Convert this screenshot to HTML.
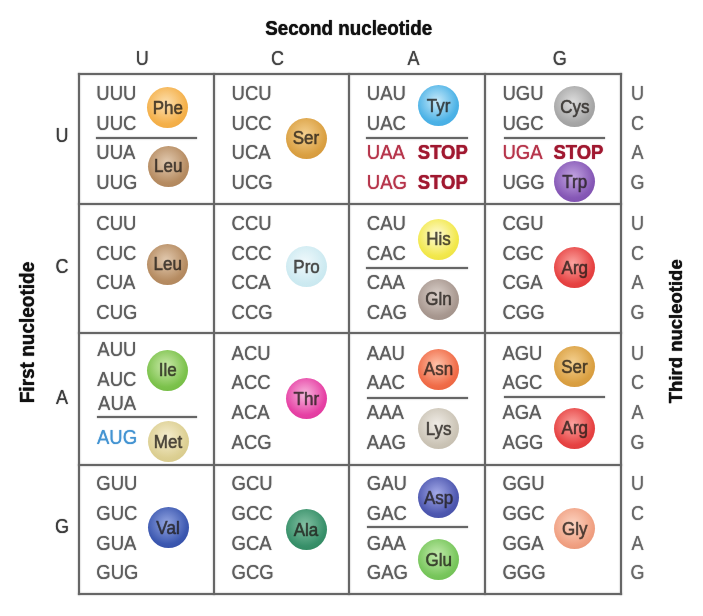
<!DOCTYPE html>
<html><head><meta charset="utf-8"><style>
html,body{margin:0;padding:0;background:#fff;}
body{width:703px;height:616px;position:relative;overflow:hidden;}
#w{position:absolute;left:0;top:0;width:703px;height:616px;will-change:transform;}
.t{position:absolute;font-family:"Liberation Sans",sans-serif;line-height:1;white-space:nowrap;transform-origin:0 0;text-shadow:0 0 1px currentColor;}
.tb{-webkit-text-stroke:0.2px currentColor;}
.bt{-webkit-text-stroke:0.5px currentColor;text-shadow:0 0 1px rgba(30,25,20,0.45);}
.ln{position:absolute;background:#666666;box-shadow:0 0 1.3px rgba(100,100,100,0.9);}
.ball{position:absolute;width:41px;height:41px;border-radius:50%;}
</style></head><body><div id="w">
<div class="ln" style="left:77.5px;top:72.8px;width:2.0px;height:521.8px"></div>
<div class="ln" style="left:212.8px;top:72.8px;width:2.0px;height:521.8px"></div>
<div class="ln" style="left:348.0px;top:72.8px;width:2.0px;height:521.8px"></div>
<div class="ln" style="left:483.6px;top:72.8px;width:2.0px;height:521.8px"></div>
<div class="ln" style="left:619.6px;top:72.8px;width:2.0px;height:521.8px"></div>
<div class="ln" style="left:77.5px;top:72.8px;width:544.1px;height:2.0px"></div>
<div class="ln" style="left:77.5px;top:203.4px;width:544.1px;height:2.0px"></div>
<div class="ln" style="left:77.5px;top:332.2px;width:544.1px;height:2.0px"></div>
<div class="ln" style="left:77.5px;top:463.9px;width:544.1px;height:2.0px"></div>
<div class="ln" style="left:77.5px;top:592.6px;width:544.1px;height:2.0px"></div>
<div class="t tb" style="left:265.2px;top:19.68px;font-size:18.8px;font-weight:700;color:#111;transform:scaleY(1.03);">Second nucleotide</div>
<div class="t" style="left:122.3px;width:40px;text-align:center;top:49.45px;font-size:18px;font-weight:400;color:#444444;transform:scaleY(1.09);">U</div>
<div class="t" style="left:257.6px;width:40px;text-align:center;top:49.45px;font-size:18px;font-weight:400;color:#444444;transform:scaleY(1.09);">C</div>
<div class="t" style="left:393.4px;width:40px;text-align:center;top:49.45px;font-size:18px;font-weight:400;color:#444444;transform:scaleY(1.09);">A</div>
<div class="t" style="left:539.7px;width:40px;text-align:center;top:49.45px;font-size:18px;font-weight:400;color:#444444;transform:scaleY(1.09);">G</div>
<div class="t" style="left:42.0px;width:40px;text-align:center;top:126.05px;font-size:18px;font-weight:400;color:#3c3c3c;transform:scaleY(1.09);">U</div>
<div class="t" style="left:42.0px;width:40px;text-align:center;top:257.35px;font-size:18px;font-weight:400;color:#3c3c3c;transform:scaleY(1.09);">C</div>
<div class="t" style="left:42.0px;width:40px;text-align:center;top:388.05px;font-size:18px;font-weight:400;color:#3c3c3c;transform:scaleY(1.09);">A</div>
<div class="t" style="left:42.0px;width:40px;text-align:center;top:516.95px;font-size:18px;font-weight:400;color:#3c3c3c;transform:scaleY(1.09);">G</div>
<div class="t tb" style="left:-82.8px;top:322.9px;width:220px;text-align:center;font-size:19px;font-weight:700;color:#111;transform:rotate(-90deg) scaleY(1.02);transform-origin:50% 50%">First nucleotide</div>
<div class="t tb" style="left:565.6px;top:322.4px;width:220px;text-align:center;font-size:18.5px;font-weight:700;color:#111;transform:rotate(-90deg) scaleY(1.02);transform-origin:50% 50%">Third nucleotide</div>
<div class="t" style="left:96.3px;top:83.78px;font-size:18.5px;font-weight:400;color:#5e5e5e;transform:scaleY(1.09);">UUU</div>
<div class="t" style="left:96.3px;top:113.58px;font-size:18.5px;font-weight:400;color:#5e5e5e;transform:scaleY(1.09);">UUC</div>
<div class="t" style="left:96.3px;top:143.38px;font-size:18.5px;font-weight:400;color:#5e5e5e;transform:scaleY(1.09);">UUA</div>
<div class="t" style="left:96.3px;top:173.18px;font-size:18.5px;font-weight:400;color:#5e5e5e;transform:scaleY(1.09);">UUG</div>
<div class="t" style="left:231.6px;top:83.78px;font-size:18.5px;font-weight:400;color:#5e5e5e;transform:scaleY(1.09);">UCU</div>
<div class="t" style="left:231.6px;top:113.58px;font-size:18.5px;font-weight:400;color:#5e5e5e;transform:scaleY(1.09);">UCC</div>
<div class="t" style="left:231.6px;top:143.38px;font-size:18.5px;font-weight:400;color:#5e5e5e;transform:scaleY(1.09);">UCA</div>
<div class="t" style="left:231.6px;top:173.18px;font-size:18.5px;font-weight:400;color:#5e5e5e;transform:scaleY(1.09);">UCG</div>
<div class="t" style="left:366.8px;top:83.78px;font-size:18.5px;font-weight:400;color:#5e5e5e;transform:scaleY(1.09);">UAU</div>
<div class="t" style="left:366.8px;top:113.58px;font-size:18.5px;font-weight:400;color:#5e5e5e;transform:scaleY(1.09);">UAC</div>
<div class="t" style="left:366.8px;top:143.38px;font-size:18.5px;font-weight:400;color:#b6344a;transform:scaleY(1.09);">UAA</div>
<div class="t tb" style="left:417.8px;top:143.38px;font-size:18.5px;font-weight:700;color:#a01830;transform:scaleY(1.09);">STOP</div>
<div class="t" style="left:366.8px;top:173.18px;font-size:18.5px;font-weight:400;color:#b6344a;transform:scaleY(1.09);">UAG</div>
<div class="t tb" style="left:417.8px;top:173.18px;font-size:18.5px;font-weight:700;color:#a01830;transform:scaleY(1.09);">STOP</div>
<div class="t" style="left:502.4px;top:83.78px;font-size:18.5px;font-weight:400;color:#5e5e5e;transform:scaleY(1.09);">UGU</div>
<div class="t" style="left:502.4px;top:113.58px;font-size:18.5px;font-weight:400;color:#5e5e5e;transform:scaleY(1.09);">UGC</div>
<div class="t" style="left:502.4px;top:143.38px;font-size:18.5px;font-weight:400;color:#b6344a;transform:scaleY(1.09);">UGA</div>
<div class="t tb" style="left:553.4px;top:143.38px;font-size:18.5px;font-weight:700;color:#a01830;transform:scaleY(1.09);">STOP</div>
<div class="t" style="left:502.4px;top:173.18px;font-size:18.5px;font-weight:400;color:#5e5e5e;transform:scaleY(1.09);">UGG</div>
<div class="t" style="left:96.3px;top:214.18px;font-size:18.5px;font-weight:400;color:#5e5e5e;transform:scaleY(1.09);">CUU</div>
<div class="t" style="left:96.3px;top:243.78px;font-size:18.5px;font-weight:400;color:#5e5e5e;transform:scaleY(1.09);">CUC</div>
<div class="t" style="left:96.3px;top:273.38px;font-size:18.5px;font-weight:400;color:#5e5e5e;transform:scaleY(1.09);">CUA</div>
<div class="t" style="left:96.3px;top:302.98px;font-size:18.5px;font-weight:400;color:#5e5e5e;transform:scaleY(1.09);">CUG</div>
<div class="t" style="left:231.6px;top:214.18px;font-size:18.5px;font-weight:400;color:#5e5e5e;transform:scaleY(1.09);">CCU</div>
<div class="t" style="left:231.6px;top:243.78px;font-size:18.5px;font-weight:400;color:#5e5e5e;transform:scaleY(1.09);">CCC</div>
<div class="t" style="left:231.6px;top:273.38px;font-size:18.5px;font-weight:400;color:#5e5e5e;transform:scaleY(1.09);">CCA</div>
<div class="t" style="left:231.6px;top:302.98px;font-size:18.5px;font-weight:400;color:#5e5e5e;transform:scaleY(1.09);">CCG</div>
<div class="t" style="left:366.8px;top:214.18px;font-size:18.5px;font-weight:400;color:#5e5e5e;transform:scaleY(1.09);">CAU</div>
<div class="t" style="left:366.8px;top:243.78px;font-size:18.5px;font-weight:400;color:#5e5e5e;transform:scaleY(1.09);">CAC</div>
<div class="t" style="left:366.8px;top:273.38px;font-size:18.5px;font-weight:400;color:#5e5e5e;transform:scaleY(1.09);">CAA</div>
<div class="t" style="left:366.8px;top:302.98px;font-size:18.5px;font-weight:400;color:#5e5e5e;transform:scaleY(1.09);">CAG</div>
<div class="t" style="left:502.4px;top:214.18px;font-size:18.5px;font-weight:400;color:#5e5e5e;transform:scaleY(1.09);">CGU</div>
<div class="t" style="left:502.4px;top:243.78px;font-size:18.5px;font-weight:400;color:#5e5e5e;transform:scaleY(1.09);">CGC</div>
<div class="t" style="left:502.4px;top:273.38px;font-size:18.5px;font-weight:400;color:#5e5e5e;transform:scaleY(1.09);">CGA</div>
<div class="t" style="left:502.4px;top:302.98px;font-size:18.5px;font-weight:400;color:#5e5e5e;transform:scaleY(1.09);">CGG</div>
<div class="t" style="left:97.3px;top:339.58px;font-size:18.5px;font-weight:400;color:#5e5e5e;transform:scaleY(1.09);">AUU</div>
<div class="t" style="left:97.3px;top:369.98px;font-size:18.5px;font-weight:400;color:#5e5e5e;transform:scaleY(1.09);">AUC</div>
<div class="t" style="left:98.1px;top:393.98px;font-size:18.5px;font-weight:400;color:#5e5e5e;transform:scaleY(1.09);">AUA</div>
<div class="t" style="left:97.0px;top:428.18px;font-size:18.5px;font-weight:400;color:#4494d2;transform:scaleY(1.09);">AUG</div>
<div class="t" style="left:231.6px;top:343.58px;font-size:18.5px;font-weight:400;color:#5e5e5e;transform:scaleY(1.09);">ACU</div>
<div class="t" style="left:231.6px;top:373.38px;font-size:18.5px;font-weight:400;color:#5e5e5e;transform:scaleY(1.09);">ACC</div>
<div class="t" style="left:231.6px;top:403.18px;font-size:18.5px;font-weight:400;color:#5e5e5e;transform:scaleY(1.09);">ACA</div>
<div class="t" style="left:231.6px;top:432.98px;font-size:18.5px;font-weight:400;color:#5e5e5e;transform:scaleY(1.09);">ACG</div>
<div class="t" style="left:366.8px;top:343.58px;font-size:18.5px;font-weight:400;color:#5e5e5e;transform:scaleY(1.09);">AAU</div>
<div class="t" style="left:366.8px;top:373.38px;font-size:18.5px;font-weight:400;color:#5e5e5e;transform:scaleY(1.09);">AAC</div>
<div class="t" style="left:366.8px;top:403.18px;font-size:18.5px;font-weight:400;color:#5e5e5e;transform:scaleY(1.09);">AAA</div>
<div class="t" style="left:366.8px;top:432.98px;font-size:18.5px;font-weight:400;color:#5e5e5e;transform:scaleY(1.09);">AAG</div>
<div class="t" style="left:502.4px;top:343.58px;font-size:18.5px;font-weight:400;color:#5e5e5e;transform:scaleY(1.09);">AGU</div>
<div class="t" style="left:502.4px;top:373.38px;font-size:18.5px;font-weight:400;color:#5e5e5e;transform:scaleY(1.09);">AGC</div>
<div class="t" style="left:502.4px;top:403.18px;font-size:18.5px;font-weight:400;color:#5e5e5e;transform:scaleY(1.09);">AGA</div>
<div class="t" style="left:502.4px;top:432.98px;font-size:18.5px;font-weight:400;color:#5e5e5e;transform:scaleY(1.09);">AGG</div>
<div class="t" style="left:96.3px;top:473.98px;font-size:18.5px;font-weight:400;color:#5e5e5e;transform:scaleY(1.09);">GUU</div>
<div class="t" style="left:96.3px;top:503.78px;font-size:18.5px;font-weight:400;color:#5e5e5e;transform:scaleY(1.09);">GUC</div>
<div class="t" style="left:96.3px;top:533.58px;font-size:18.5px;font-weight:400;color:#5e5e5e;transform:scaleY(1.09);">GUA</div>
<div class="t" style="left:96.3px;top:563.38px;font-size:18.5px;font-weight:400;color:#5e5e5e;transform:scaleY(1.09);">GUG</div>
<div class="t" style="left:231.6px;top:473.98px;font-size:18.5px;font-weight:400;color:#5e5e5e;transform:scaleY(1.09);">GCU</div>
<div class="t" style="left:231.6px;top:503.78px;font-size:18.5px;font-weight:400;color:#5e5e5e;transform:scaleY(1.09);">GCC</div>
<div class="t" style="left:231.6px;top:533.58px;font-size:18.5px;font-weight:400;color:#5e5e5e;transform:scaleY(1.09);">GCA</div>
<div class="t" style="left:231.6px;top:563.38px;font-size:18.5px;font-weight:400;color:#5e5e5e;transform:scaleY(1.09);">GCG</div>
<div class="t" style="left:366.8px;top:473.98px;font-size:18.5px;font-weight:400;color:#5e5e5e;transform:scaleY(1.09);">GAU</div>
<div class="t" style="left:366.8px;top:503.78px;font-size:18.5px;font-weight:400;color:#5e5e5e;transform:scaleY(1.09);">GAC</div>
<div class="t" style="left:366.8px;top:533.58px;font-size:18.5px;font-weight:400;color:#5e5e5e;transform:scaleY(1.09);">GAA</div>
<div class="t" style="left:366.8px;top:563.38px;font-size:18.5px;font-weight:400;color:#5e5e5e;transform:scaleY(1.09);">GAG</div>
<div class="t" style="left:502.4px;top:473.98px;font-size:18.5px;font-weight:400;color:#5e5e5e;transform:scaleY(1.09);">GGU</div>
<div class="t" style="left:502.4px;top:503.78px;font-size:18.5px;font-weight:400;color:#5e5e5e;transform:scaleY(1.09);">GGC</div>
<div class="t" style="left:502.4px;top:533.58px;font-size:18.5px;font-weight:400;color:#5e5e5e;transform:scaleY(1.09);">GGA</div>
<div class="t" style="left:502.4px;top:563.38px;font-size:18.5px;font-weight:400;color:#5e5e5e;transform:scaleY(1.09);">GGG</div>
<div class="t" style="left:622.6px;width:30px;text-align:center;top:83.85px;font-size:18px;font-weight:400;color:#686868;transform:scaleY(1.09);">U</div>
<div class="t" style="left:622.6px;width:30px;text-align:center;top:113.65px;font-size:18px;font-weight:400;color:#686868;transform:scaleY(1.09);">C</div>
<div class="t" style="left:622.6px;width:30px;text-align:center;top:143.45px;font-size:18px;font-weight:400;color:#686868;transform:scaleY(1.09);">A</div>
<div class="t" style="left:622.6px;width:30px;text-align:center;top:173.25px;font-size:18px;font-weight:400;color:#686868;transform:scaleY(1.09);">G</div>
<div class="t" style="left:622.6px;width:30px;text-align:center;top:214.25px;font-size:18px;font-weight:400;color:#686868;transform:scaleY(1.09);">U</div>
<div class="t" style="left:622.6px;width:30px;text-align:center;top:243.85px;font-size:18px;font-weight:400;color:#686868;transform:scaleY(1.09);">C</div>
<div class="t" style="left:622.6px;width:30px;text-align:center;top:273.45px;font-size:18px;font-weight:400;color:#686868;transform:scaleY(1.09);">A</div>
<div class="t" style="left:622.6px;width:30px;text-align:center;top:303.05px;font-size:18px;font-weight:400;color:#686868;transform:scaleY(1.09);">G</div>
<div class="t" style="left:622.6px;width:30px;text-align:center;top:343.65px;font-size:18px;font-weight:400;color:#686868;transform:scaleY(1.09);">U</div>
<div class="t" style="left:622.6px;width:30px;text-align:center;top:373.45px;font-size:18px;font-weight:400;color:#686868;transform:scaleY(1.09);">C</div>
<div class="t" style="left:622.6px;width:30px;text-align:center;top:403.25px;font-size:18px;font-weight:400;color:#686868;transform:scaleY(1.09);">A</div>
<div class="t" style="left:622.6px;width:30px;text-align:center;top:433.05px;font-size:18px;font-weight:400;color:#686868;transform:scaleY(1.09);">G</div>
<div class="t" style="left:622.6px;width:30px;text-align:center;top:474.05px;font-size:18px;font-weight:400;color:#686868;transform:scaleY(1.09);">U</div>
<div class="t" style="left:622.6px;width:30px;text-align:center;top:503.85px;font-size:18px;font-weight:400;color:#686868;transform:scaleY(1.09);">C</div>
<div class="t" style="left:622.6px;width:30px;text-align:center;top:533.65px;font-size:18px;font-weight:400;color:#686868;transform:scaleY(1.09);">A</div>
<div class="t" style="left:622.6px;width:30px;text-align:center;top:563.45px;font-size:18px;font-weight:400;color:#686868;transform:scaleY(1.09);">G</div>
<div class="ln" style="left:96.3px;top:136.9px;width:100.8px;height:2.0px"></div>
<div class="ln" style="left:366.3px;top:136.7px;width:101.6px;height:2.0px"></div>
<div class="ln" style="left:504.2px;top:136.7px;width:100.7px;height:2.0px"></div>
<div class="ln" style="left:366.3px;top:266.7px;width:101.6px;height:2.0px"></div>
<div class="ln" style="left:96.7px;top:416.2px;width:100.5px;height:2.0px"></div>
<div class="ln" style="left:367.1px;top:397.3px;width:100.8px;height:2.0px"></div>
<div class="ln" style="left:504.2px;top:396.3px;width:100.7px;height:2.0px"></div>
<div class="ln" style="left:367.1px;top:526.3px;width:101.2px;height:2.0px"></div>
<div class="ball" style="left:147.3px;top:87.1px;background:radial-gradient(circle at 46% 40%, #fde0b0 0%, #f4b04a 62%, #eea63e 100%)"></div>
<div class="t bt" style="left:137.8px;width:60px;text-align:center;top:98.88px;font-size:17px;font-weight:400;color:rgba(28,24,20,0.58);transform:scaleY(1.09);">Phe</div>
<div class="ball" style="left:147.7px;top:145.5px;background:radial-gradient(circle at 46% 40%, #e2cab0 0%, #b68c62 62%, #aa8058 100%)"></div>
<div class="t bt" style="left:138.2px;width:60px;text-align:center;top:157.28px;font-size:17px;font-weight:400;color:rgba(28,24,20,0.58);transform:scaleY(1.09);">Leu</div>
<div class="ball" style="left:285.5px;top:117.5px;background:radial-gradient(circle at 46% 40%, #f4d090 0%, #daa042 62%, #d09238 100%)"></div>
<div class="t bt" style="left:276.0px;width:60px;text-align:center;top:129.28px;font-size:17px;font-weight:400;color:rgba(28,24,20,0.58);transform:scaleY(1.09);">Ser</div>
<div class="ball" style="left:418.0px;top:85.0px;background:radial-gradient(circle at 46% 40%, #c8eafa 0%, #4cb2e6 62%, #40a8e2 100%)"></div>
<div class="t bt" style="left:408.5px;width:60px;text-align:center;top:96.78px;font-size:17px;font-weight:400;color:rgba(28,24,20,0.58);transform:scaleY(1.09);">Tyr</div>
<div class="ball" style="left:554.3px;top:86.1px;background:radial-gradient(circle at 46% 40%, #dedede 0%, #a6a6a6 62%, #969696 100%)"></div>
<div class="t bt" style="left:544.8px;width:60px;text-align:center;top:97.88px;font-size:17px;font-weight:400;color:rgba(28,24,20,0.58);transform:scaleY(1.09);">Cys</div>
<div class="ball" style="left:554.3px;top:160.9px;background:radial-gradient(circle at 46% 40%, #c4a6e2 0%, #8658b6 62%, #784aaa 100%)"></div>
<div class="t bt" style="left:544.8px;width:60px;text-align:center;top:172.68px;font-size:17px;font-weight:400;color:rgba(28,24,20,0.58);transform:scaleY(1.09);">Trp</div>
<div class="ball" style="left:147.3px;top:243.5px;background:radial-gradient(circle at 46% 40%, #e2cab0 0%, #b68c62 62%, #aa8058 100%)"></div>
<div class="t bt" style="left:137.8px;width:60px;text-align:center;top:255.28px;font-size:17px;font-weight:400;color:rgba(28,24,20,0.58);transform:scaleY(1.09);">Leu</div>
<div class="ball" style="left:286.1px;top:246.3px;background:radial-gradient(circle at 46% 40%, #f0f9fc 0%, #cdeaf1 62%, #c2e4ec 100%)"></div>
<div class="t bt" style="left:276.6px;width:60px;text-align:center;top:258.08px;font-size:17px;font-weight:400;color:rgba(28,24,20,0.58);transform:scaleY(1.09);">Pro</div>
<div class="ball" style="left:418.0px;top:218.5px;background:radial-gradient(circle at 46% 40%, #fffbd8 0%, #f2e84c 62%, #e8dc3c 100%)"></div>
<div class="t bt" style="left:408.5px;width:60px;text-align:center;top:230.28px;font-size:17px;font-weight:400;color:rgba(28,24,20,0.58);transform:scaleY(1.09);">His</div>
<div class="ball" style="left:418.0px;top:278.5px;background:radial-gradient(circle at 46% 40%, #dcd2cc 0%, #a89890 62%, #9a8a82 100%)"></div>
<div class="t bt" style="left:408.5px;width:60px;text-align:center;top:290.28px;font-size:17px;font-weight:400;color:rgba(28,24,20,0.58);transform:scaleY(1.09);">Gln</div>
<div class="ball" style="left:554.3px;top:247.3px;background:radial-gradient(circle at 46% 40%, #fca4a0 0%, #e64242 62%, #da3636 100%)"></div>
<div class="t bt" style="left:544.8px;width:60px;text-align:center;top:259.08px;font-size:17px;font-weight:400;color:rgba(28,24,20,0.58);transform:scaleY(1.09);">Arg</div>
<div class="ball" style="left:147.3px;top:349.5px;background:radial-gradient(circle at 46% 40%, #cceaac 0%, #7cc24c 62%, #6eb63e 100%)"></div>
<div class="t bt" style="left:137.8px;width:60px;text-align:center;top:361.28px;font-size:17px;font-weight:400;color:rgba(28,24,20,0.58);transform:scaleY(1.09);">Ile</div>
<div class="ball" style="left:147.5px;top:421.0px;background:radial-gradient(circle at 46% 40%, #f6eed0 0%, #dccf92 62%, #d2c484 100%)"></div>
<div class="t bt" style="left:138.0px;width:60px;text-align:center;top:432.78px;font-size:17px;font-weight:400;color:rgba(28,24,20,0.58);transform:scaleY(1.09);">Met</div>
<div class="ball" style="left:285.8px;top:378.3px;background:radial-gradient(circle at 46% 40%, #f8b8de 0%, #e640a4 62%, #da3496 100%)"></div>
<div class="t bt" style="left:276.3px;width:60px;text-align:center;top:390.08px;font-size:17px;font-weight:400;color:rgba(28,24,20,0.58);transform:scaleY(1.09);">Thr</div>
<div class="ball" style="left:418.0px;top:348.5px;background:radial-gradient(circle at 46% 40%, #ffc4ac 0%, #f06c48 62%, #e65e3a 100%)"></div>
<div class="t bt" style="left:408.5px;width:60px;text-align:center;top:360.28px;font-size:17px;font-weight:400;color:rgba(28,24,20,0.58);transform:scaleY(1.09);">Asn</div>
<div class="ball" style="left:418.2px;top:408.2px;background:radial-gradient(circle at 46% 40%, #f0ece6 0%, #cbc4b6 62%, #bdb5a6 100%)"></div>
<div class="t bt" style="left:408.7px;width:60px;text-align:center;top:419.98px;font-size:17px;font-weight:400;color:rgba(28,24,20,0.58);transform:scaleY(1.09);">Lys</div>
<div class="ball" style="left:554.0px;top:346.2px;background:radial-gradient(circle at 46% 40%, #f4d090 0%, #daa042 62%, #d09238 100%)"></div>
<div class="t bt" style="left:544.5px;width:60px;text-align:center;top:357.98px;font-size:17px;font-weight:400;color:rgba(28,24,20,0.58);transform:scaleY(1.09);">Ser</div>
<div class="ball" style="left:554.3px;top:407.5px;background:radial-gradient(circle at 46% 40%, #fca4a0 0%, #e64242 62%, #da3636 100%)"></div>
<div class="t bt" style="left:544.8px;width:60px;text-align:center;top:419.28px;font-size:17px;font-weight:400;color:rgba(28,24,20,0.58);transform:scaleY(1.09);">Arg</div>
<div class="ball" style="left:147.5px;top:507.3px;background:radial-gradient(circle at 46% 40%, #94a6e2 0%, #3c58b0 62%, #3048a2 100%)"></div>
<div class="t bt" style="left:138.0px;width:60px;text-align:center;top:519.08px;font-size:17px;font-weight:400;color:rgba(28,24,20,0.58);transform:scaleY(1.09);">Val</div>
<div class="ball" style="left:285.5px;top:508.9px;background:radial-gradient(circle at 46% 40%, #84c2a4 0%, #38906a 62%, #2c8258 100%)"></div>
<div class="t bt" style="left:276.0px;width:60px;text-align:center;top:520.68px;font-size:17px;font-weight:400;color:rgba(28,24,20,0.58);transform:scaleY(1.09);">Ala</div>
<div class="ball" style="left:418.2px;top:477.2px;background:radial-gradient(circle at 46% 40%, #a4aae8 0%, #4e58b0 62%, #424ba2 100%)"></div>
<div class="t bt" style="left:408.7px;width:60px;text-align:center;top:488.98px;font-size:17px;font-weight:400;color:rgba(28,24,20,0.58);transform:scaleY(1.09);">Asp</div>
<div class="ball" style="left:418.2px;top:539.2px;background:radial-gradient(circle at 46% 40%, #c4ecae 0%, #78c65c 62%, #6aba4e 100%)"></div>
<div class="t bt" style="left:408.7px;width:60px;text-align:center;top:550.98px;font-size:17px;font-weight:400;color:rgba(28,24,20,0.58);transform:scaleY(1.09);">Glu</div>
<div class="ball" style="left:554.3px;top:508.4px;background:radial-gradient(circle at 46% 40%, #fcd4c2 0%, #f0a082 62%, #e48c6c 100%)"></div>
<div class="t bt" style="left:544.8px;width:60px;text-align:center;top:520.18px;font-size:17px;font-weight:400;color:rgba(28,24,20,0.58);transform:scaleY(1.09);">Gly</div>
</div></body></html>
